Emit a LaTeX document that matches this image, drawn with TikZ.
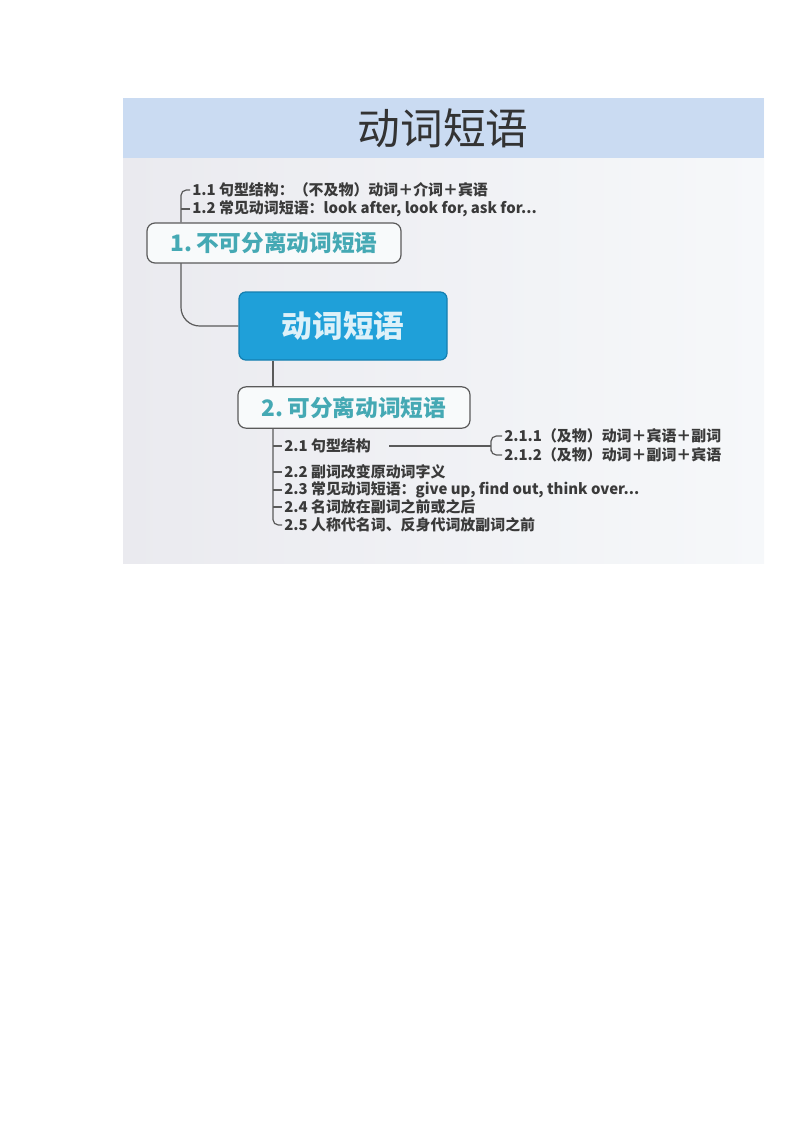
\documentclass[tikz,border=0pt]{standalone}
\usepackage{fontspec}
\setmainfont{Noto Sans CJK SC}
\usetikzlibrary{calc}
\definecolor{band}{HTML}{CADBF2}
\definecolor{bgleft}{HTML}{EAEAEF}
\definecolor{bgright}{HTML}{F6F8FA}
\definecolor{linegray}{HTML}{5A5A5A}
\definecolor{teal}{HTML}{45A9B4}
\definecolor{txt}{HTML}{3A3A3A}
\definecolor{rootfill}{HTML}{1FA0D9}
\definecolor{rootdraw}{HTML}{157FB0}
\definecolor{boxfill}{HTML}{F8FAFB}
\pgfdeclarelayer{back}
\pgfdeclarelayer{mid}
\pgfsetlayers{back,mid,main}
\begin{document}
\begin{tikzpicture}[x=0.75pt,y=-0.75pt,
  conn/.style={draw=linegray,line width=0.9pt},
  subbox/.style={draw=linegray,line width=0.9pt,fill=boxfill,rounded corners=6pt,
    text=teal,font=\fontsize{17}{20}\selectfont\bfseries,inner sep=0pt},
  rootbox/.style={draw=rootdraw,line width=0.9pt,fill=rootfill,rounded corners=5pt,
    text=white!85!rootfill,font=\fontsize{23}{26}\selectfont\bfseries,inner sep=0pt},
  leaf/.style={anchor=west,inner sep=1.5pt,text=txt,font=\fontsize{11.2}{13}\selectfont\bfseries}]
\useasboundingbox (0,0) rectangle (800,1132);
\begin{pgfonlayer}{back}
\fill[left color=bgleft,right color=bgright] (123,98) rectangle (764,563);
\fill[band] (123,98) rectangle (764,158);
\end{pgfonlayer}
\node[text=black!80,font=\fontsize{32}{36}\selectfont] (title) at (443,128) {动词短语};
% guide coordinates
\coordinate (v1) at (181,0);
\coordinate (v2) at (273,0);
\coordinate (v3) at (491,0);
% boxes
\node[subbox,minimum width=190.5pt,minimum height=30pt] (b1) at (274,243) {1.\,不可分离动词短语};
\node[rootbox,minimum width=156pt,minimum height=51pt] (root) at (343,326) {动词短语};
\node[subbox,minimum width=174pt,minimum height=31pt] (b2) at (354,407.5) {2.\,可分离动词短语};
% leaf texts
\node[leaf] (l11) at (190,190) {1.1 句型结构：（不及物）动词＋介词＋宾语};
\node[leaf] (l12) at (190,209) {1.2 常见动词短语：look after, look for, ask for...};
\node[leaf] (l21) at (282,446) {2.1 句型结构};
\node[leaf] (l22) at (282,472) {2.2 副词改变原动词字义};
\node[leaf] (l23) at (282,490) {2.3 常见动词短语：give up, find out, think over...};
\node[leaf] (l24) at (282,507) {2.4 名词放在副词之前或之后};
\node[leaf] (l25) at (282,525) {2.5 人称代名词、反身代词放副词之前};
\node[leaf] (l211) at (502,436) {2.1.1（及物）动词＋宾语＋副词};
\node[leaf] (l212) at (502,455) {2.1.2（及物）动词＋副词＋宾语};
% connectors (behind boxes)
\begin{pgfonlayer}{mid}
\draw[conn,rounded corners=14pt] (root.west) -| (v1 |- b1.center);
\draw[conn,rounded corners=4pt] (v1 |- b1.north) |- (l11.west);
\draw[conn] (l12.west -| v1) -- (l12.west);
\draw[conn] (root.south -| v2) -- (b2.north -| v2);
\draw[conn,rounded corners=4pt] (b2.south -| v2) |- (l25.west);
\draw[conn] (l21.west -| v2) -- (l21.west);
\draw[conn] (l22.west -| v2) -- (l22.west);
\draw[conn] (l23.west -| v2) -- (l23.west);
\draw[conn] (l24.west -| v2) -- (l24.west);
\draw[conn] ($(l21.east)+(16,0)$) -- (v3 |- l21.east);
\draw[conn,rounded corners=4pt] (l211.west) -| (v3 |- l21.east) |- (l212.west);
\end{pgfonlayer}
\end{tikzpicture}
\end{document}
